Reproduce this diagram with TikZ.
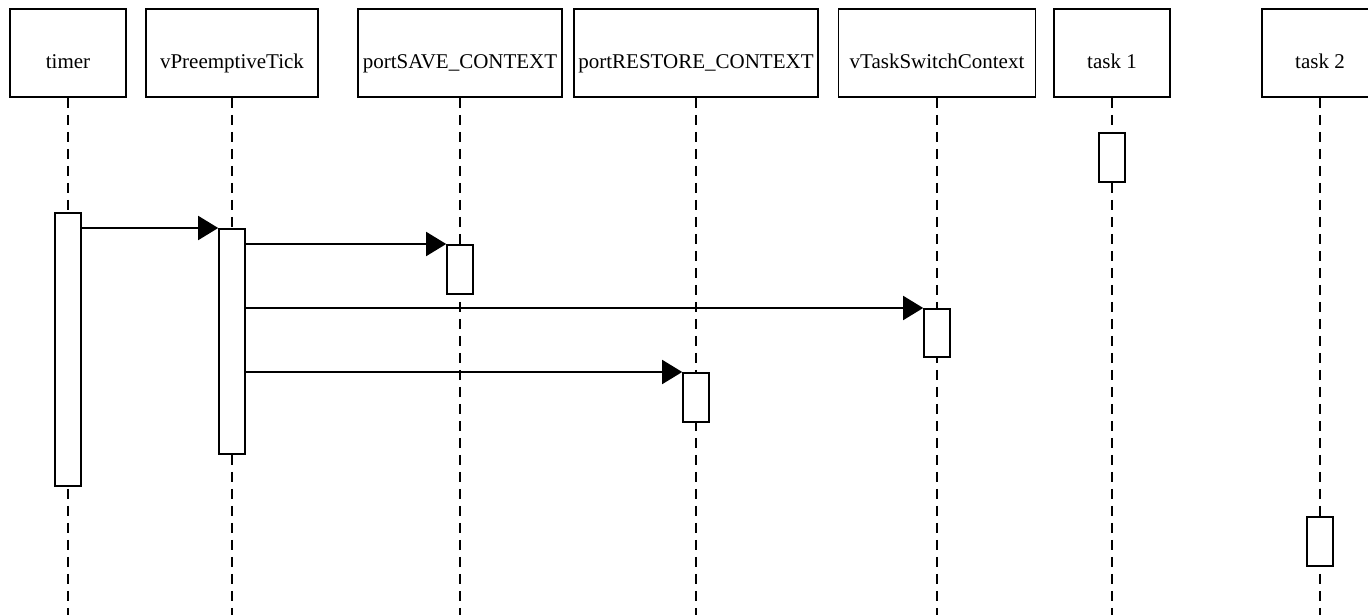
\documentclass[tikz,border=0pt]{standalone}
\usepackage{fontspec}
\setmainfont{Liberation Serif}
\usetikzlibrary{arrows.meta,positioning}

\begin{document}
\begin{tikzpicture}[x=1pt,y=-1pt,
    obj/.style={draw,line width=1.6pt,minimum height=88pt,inner sep=0pt,
      text height=32pt,text depth=0pt,font=\fontsize{21}{25}\selectfont},
    life/.style={line width=1.6pt,dash pattern=on 10pt off 7pt},
    act/.style={draw,fill=white,line width=1.6pt,minimum width=26pt,inner sep=0pt,anchor=north},
    msg/.style={line width=1.6pt,-{Triangle[length=20pt,width=24pt]}}]
    \useasboundingbox[fill=white] (0,0) rectangle (1368,615);
    \coordinate (bottom) at (0,615);
    % Objects
    \node[obj,minimum width=116pt] (timer) at (68,53) {timer};
    \node[obj,minimum width=172pt] (tick) at (232,53) {vPreemptiveTick};
    \node[obj,minimum width=204pt] (save) at (460,53) {portSAVE\_CONTEXT};
    \node[obj,minimum width=244pt] (restore) at (696,53) {portRESTORE\_CONTEXT};
    \node[obj,minimum width=197pt] (switch) at (937,53) {vTaskSwitchContext};
    \node[obj,minimum width=116pt] (taskA) at (1112,53) {task 1};
    \node[obj,minimum width=116pt] (taskB) at (1320,53) {task 2};
    % Lifelines
    \foreach \o in {timer,tick,save,restore,switch,taskA,taskB}
        \draw[life] (\o.south) -- (\o.south |- bottom);
    % Activations
    \node[act,minimum height=273pt] (timerA) at (timer.south |- 0,212) {};
    \node[act,minimum height=225pt] (tickA) at (tick.south |- 0,228) {};
    \node[act,minimum height=49pt] (saveA) at (save.south |- 0,244) {};
    \node[act,minimum height=48pt] (switchA) at (switch.south |- 0,308) {};
    \node[act,minimum height=49pt] (restoreA) at (restore.south |- 0,372) {};
    \node[act,minimum height=49pt] (taskAA) at (taskA.south |- 0,132) {};
    \node[act,minimum height=49pt] (taskBA) at (taskB.south |- 0,516) {};
    % Messages
    \draw[msg] (timerA.east |- tickA.north) -- (tickA.north west);
    \draw[msg] (tickA.east |- saveA.north) -- (saveA.north west);
    \draw[msg] (tickA.east |- switchA.north) -- (switchA.north west);
    \draw[msg] (tickA.east |- restoreA.north) -- (restoreA.north west);
\end{tikzpicture}
\end{document}
